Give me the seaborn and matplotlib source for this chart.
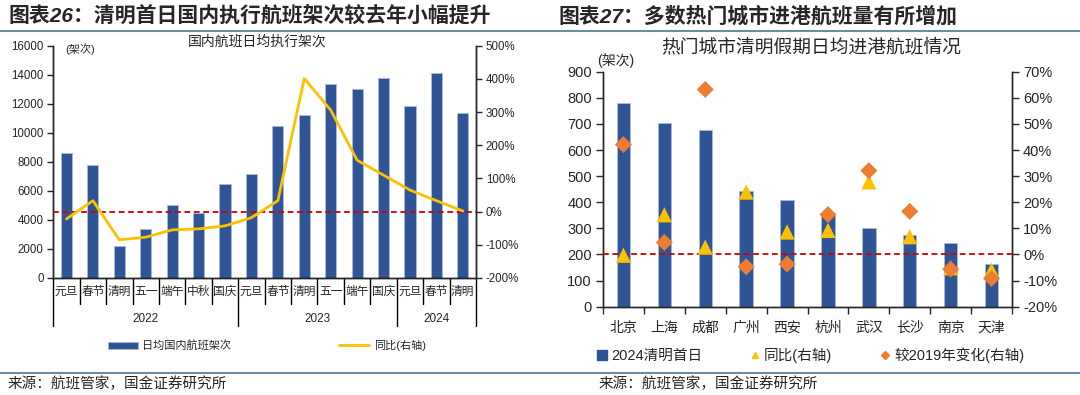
import numpy as np
import pandas as pd
import matplotlib
matplotlib.use("Agg")
import matplotlib.pyplot as plt
import seaborn as sns
from matplotlib.lines import Line2D
from matplotlib.patches import Patch
from matplotlib.transforms import blended_transform_factory
from matplotlib.ticker import FuncFormatter, MultipleLocator

# ---------------- data: left chart ----------------
holiday_labels = ['元旦', '春节', '清明', '五一', '端午', '中秋', '国庆',
                  '元旦', '春节', '清明', '五一', '端午', '国庆',
                  '元旦', '春节', '清明']
years = ['2022', '2023', '2024']
year_counts = [7, 6, 3]
daily_flights = [8600, 7800, 2200, 3350, 5000, 4500, 6500,
                 7150, 10450, 11200, 13350, 13000, 13800,
                 11850, 14100, 11350]
yoy_pct = [-22, 33, -85, -77, -55, -52, -43,
           -18, 33, 401, 306, 155, 110,
           65, 33, 2]

# ---------------- data: right chart ----------------
cities = ['北京', '上海', '成都', '广州', '西安', '杭州', '武汉', '长沙', '南京', '天津']
city_flights = [780, 703, 676, 443, 410, 351, 300, 273, 243, 163]
city_yoy = [-0.3, 15.2, 2.8, 23.9, 8.6, 9.2, 27.8, 6.8, -5.1, -6.0]
city_vs2019 = [42.1, 4.6, 63.2, -4.7, -3.7, 15.3, 32.1, 16.5, -5.6, -9.2]

BLUE = '#2F5597'
EDGE = '#A9BCDD'
YELLOW = '#FFC000'
ORANGE = '#ED7D31'
RED = '#D00000'
RULE = '#6A8CA5'

sns.set_theme(style='ticks')
plt.rcParams['font.family'] = ['Liberation Sans', 'Noto Sans CJK SC']
plt.rcParams['axes.unicode_minus'] = False
plt.rcParams['axes.linewidth'] = 1.0
plt.rcParams['xtick.major.width'] = 1.0
plt.rcParams['ytick.major.width'] = 1.0

W, H = 1080, 395
fig = plt.figure(figsize=(W / 100, H / 100), dpi=100)

def fx(px):
    return px / W

def fy(py):
    return 1 - py / H

# ======================= LEFT CHART =======================
axL = fig.add_axes([fx(53.3), fy(278), fx(476) - fx(53.3), fy(45.7) - fy(278)])
keys = [f'{i}' for i in range(len(holiday_labels))]
dfL = pd.DataFrame({'key': keys, 'val': daily_flights})
sns.barplot(data=dfL, x='key', y='val', color=BLUE, saturation=1, width=0.42,
            edgecolor=EDGE, linewidth=0.6, ax=axL, zorder=2)
axL.set_ylim(0, 16000)
axL.yaxis.set_major_locator(MultipleLocator(2000))
axL.set_xlim(-0.5, len(keys) - 0.5)
axL.set_xlabel('')
axL.set_ylabel('')
axL.set_xticks(range(len(keys)))
axL.set_xticklabels(holiday_labels, fontsize=8.5)
axL.tick_params(axis='x', length=0, pad=5.5)
axL.tick_params(axis='y', labelsize=8.3, length=4, direction='out', pad=3)
axL.spines['top'].set_visible(False)
for s in ['left', 'right', 'bottom']:
    axL.spines[s].set_color('black')

axL2 = axL.twinx()
sns.lineplot(x=np.arange(len(yoy_pct)), y=yoy_pct, color=YELLOW, lw=2.0, ax=axL2, zorder=4)
axL2.axhline(0, color=RED, lw=1.3, ls=(0, (3.2, 2.0)), zorder=3)
axL2.set_ylim(-200, 500)
axL2.yaxis.set_major_locator(MultipleLocator(100))
axL2.yaxis.set_major_formatter(FuncFormatter(lambda v, p: f'{v:.0f}%'))
axL2.tick_params(axis='y', labelsize=8.3, length=4, direction='out', pad=3)
axL2.spines['top'].set_visible(False)
axL2.set_ylabel('')

# category / year separators
tr = blended_transform_factory(axL.transData, axL.transAxes)
d_cat = -(304 - 278) / 232.3
d_year = -(326 - 278) / 232.3
bounds_year = np.cumsum([0] + year_counts) - 0.5
for b in np.arange(len(keys) + 1) - 0.5:
    low = d_year if b in bounds_year else d_cat
    axL.plot([b, b], [0, low], transform=tr, color='black', lw=1.0, clip_on=False)
for i, y in enumerate(years):
    c = (bounds_year[i] + bounds_year[i + 1]) / 2
    axL.text(c, -(319 - 278) / 232.3, y, transform=tr, ha='center', va='center', fontsize=8.5)

fig.text(fx(65), fy(49), '(架次)', fontsize=8, va='center', ha='left')
fig.text(fx(257), fy(42), '国内航班日均执行架次', fontsize=10, va='center', ha='center')

legL = [Patch(facecolor=BLUE, edgecolor=EDGE, lw=0.5), Line2D([0], [0], color=YELLOW, lw=2)]
fig.legend(legL, ['日均国内航班架次', '同比(右轴)'], loc='center left',
           bbox_to_anchor=(fx(108), fy(345.5)), ncol=2, frameon=False, fontsize=8,
           handlelength=2.7, handleheight=0.6, handletextpad=0.4, columnspacing=9.7,
           borderpad=0, borderaxespad=0)

# ======================= RIGHT CHART =======================
axR = fig.add_axes([fx(603), fy(306.7), fx(1012) - fx(603), fy(71.7) - fy(306.7)])
dfR = pd.DataFrame({'city': cities, 'val': city_flights})
sns.barplot(data=dfR, x='city', y='val', color=BLUE, saturation=1, width=0.33,
            edgecolor=EDGE, linewidth=0.6, ax=axR, zorder=2)
axR.set_ylim(0, 900)
axR.yaxis.set_major_locator(MultipleLocator(100))
axR.set_xlim(-0.5, len(cities) - 0.5)
axR.set_xlabel('')
axR.set_ylabel('')
axR.set_xticks(np.arange(len(cities) + 1) - 0.5)
axR.set_xticklabels([])
axR.set_xticks(np.arange(len(cities)), minor=True)
axR.set_xticklabels(cities, minor=True, fontsize=10)
axR.tick_params(axis='x', which='major', length=5, direction='out')
axR.tick_params(axis='x', which='minor', length=0, pad=10)
axR.tick_params(axis='y', labelsize=10.5, length=5, direction='out', pad=3)
axR.spines['top'].set_visible(False)

axR2 = axR.twinx()
axR2.axhline(0, color=RED, lw=1.3, ls=(0, (3.2, 2.0)), zorder=3)
sns.scatterplot(x=np.arange(len(cities)), y=city_yoy, marker='^', s=120, color=YELLOW,
                edgecolor='none', ax=axR2, zorder=4)
sns.scatterplot(x=np.arange(len(cities)), y=city_vs2019, marker='D', s=75, color=ORANGE,
                edgecolor='none', ax=axR2, zorder=5)
axR2.set_ylim(-20, 70)
axR2.yaxis.set_major_locator(MultipleLocator(10))
axR2.yaxis.set_major_formatter(FuncFormatter(lambda v, p: f'{v:.0f}%'))
axR2.tick_params(axis='y', labelsize=10.5, length=5, direction='out', pad=3)
axR2.spines['top'].set_visible(False)
axR2.set_ylabel('')

fig.text(fx(597), fy(60), '(架次)', fontsize=10, va='center', ha='left')
fig.text(fx(811), fy(47), '热门城市清明假期日均进港航班情况', fontsize=13.5, va='center', ha='center')

legR = [Line2D([0], [0], marker='s', color=BLUE, ls='none', markersize=7),
        Line2D([0], [0], marker='^', color=YELLOW, ls='none', markersize=5),
        Line2D([0], [0], marker='D', color=ORANGE, ls='none', markersize=4)]
fig.legend(legR, ['2024清明首日', '同比(右轴)', '较2019年变化(右轴)'], loc='center left',
           bbox_to_anchor=(fx(597), fy(355)), ncol=3, frameon=False, fontsize=10.5,
           handlelength=0.7, handletextpad=0.25, columnspacing=3.3,
           borderpad=0, borderaxespad=0)

# ======================= titles / rules / sources =======================
fig.text(fx(8), fy(16), '图表26：清明首日国内执行航班架次较去年小幅提升', fontsize=15,
         fontweight='bold', style='italic', va='center', ha='left')
fig.text(fx(559), fy(16), '图表27：多数热门城市进港航班量有所增加', fontsize=15,
         fontweight='bold', style='italic', va='center', ha='left')
fig.add_artist(Line2D([0, 1], [fy(31), fy(31)], transform=fig.transFigure, color=RULE, lw=1.5))
fig.add_artist(Line2D([0, 1], [fy(373), fy(373)], transform=fig.transFigure, color=RULE, lw=1.5))
fig.text(fx(8), fy(384), '来源：航班管家，国金证券研究所', fontsize=10.5, va='center', ha='left')
fig.text(fx(599), fy(384), '来源：航班管家，国金证券研究所', fontsize=10.5, va='center', ha='left')

fig.savefig('out.png', dpi=100)
